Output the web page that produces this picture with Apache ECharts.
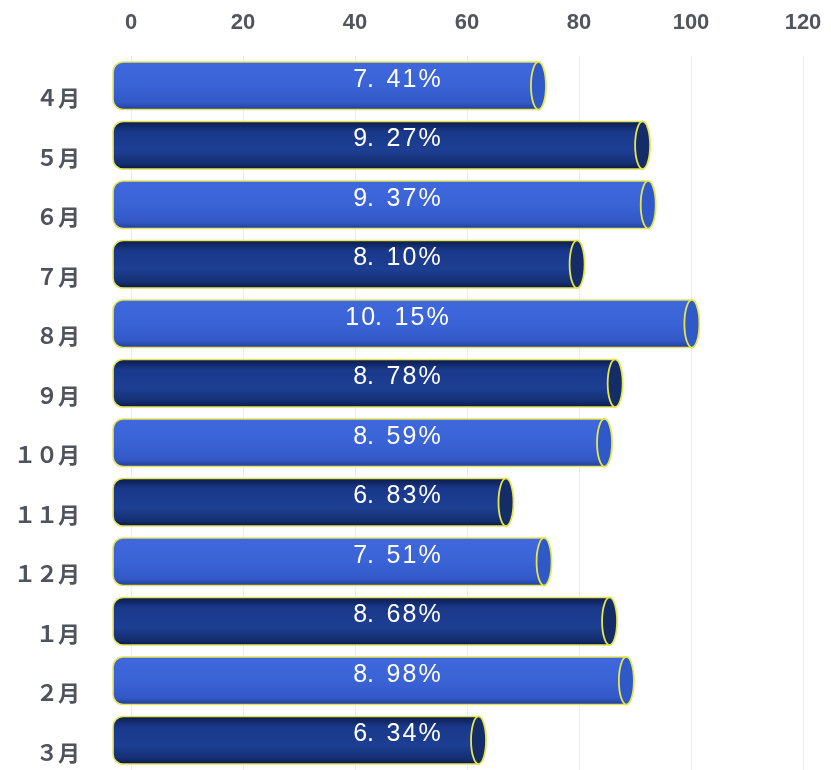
<!DOCTYPE html>
<html>
<head>
<meta charset="utf-8">
<script src="https://cdn.jsdelivr.net/npm/echarts@6/dist/echarts.min.js"></script>
<style>
html,body{margin:0;padding:0;background:#fff;}
#chart{width:831px;height:770px;}
</style>
</head>
<body>
<div id="chart"></div>
<script>
// Categories (top to bottom)
var months = ['４月','５月','６月','７月','８月','９月','１０月','１１月','１２月','１月','２月','３月'];
// Rates shown inside the bars (%)
var rates = [7.41, 9.27, 9.37, 8.10, 10.15, 8.78, 8.59, 6.83, 7.51, 8.68, 8.98, 6.34];
// Bar lengths on the 0-120 axis
var barValues = [74.1, 92.7, 93.7, 81.0, 101.5, 87.8, 85.9, 68.3, 75.1, 86.8, 89.8, 63.4];
// X axis ticks
var xTicks = [0, 20, 40, 60, 80, 100, 120];

var BAR_START = -3.2;   // cylinders start a little left of zero
var LABEL_AT = 47.5;    // labels sit at a fixed spot along the axis

var light = {stops:[[0,'#3f68de'],[0.5,'#3a63d6'],[0.85,'#3358c6'],[1,'#1f3c94']], cap:'#2f58c8'};
var dark  = {stops:[[0,'#0b1a44'],[0.22,'#19388a'],[0.6,'#1d3f93'],[0.88,'#142e70'],[1,'#0a163a']], cap:'#142c68'};

function fmt(r){
  var s = r.toFixed(2).split('.');
  var hs = '\u200A';
  return s[0].split('').join(hs) + '.\u2002' + s[1].split('').join(hs) + hs + '%';
}

var data = barValues.map(function(v, i){ return [v, i]; });

var chart = echarts.init(document.getElementById('chart'), null, {renderer:'canvas'});
chart.setOption({
  backgroundColor:'#ffffff',
  animation:false,
  grid:{left:131, right:28, top:56, height:719},
  xAxis:{
    type:'value', position:'top', min:xTicks[0], max:xTicks[xTicks.length-1], interval:20,
    axisLine:{show:false}, axisTick:{show:false},
    splitLine:{show:true, lineStyle:{color:'#ededed', width:1}},
    axisLabel:{
      margin:22, color:'#51555e', fontSize:22, fontWeight:'bold',
      fontFamily:"'Liberation Sans',Arial,sans-serif"
    }
  },
  yAxis:{
    type:'category', inverse:true, data:months,
    axisLine:{show:false}, axisTick:{show:false}, splitLine:{show:false},
    axisLabel:{
      margin:51, color:'#4f535c', fontSize:22, fontWeight:'bold',
      fontFamily:"'Noto Sans CJK JP',sans-serif",
      verticalAlign:'top', lineHeight:24
    }
  },
  series:[{
    type:'custom',
    clip:false,
    data:data,
    encode:{x:0, y:1},
    renderItem:function(params, api){
      var idx = api.value(1);
      var val = api.value(0);
      var c = api.coord([val, idx]);
      var s = api.coord([BAR_START, idx]);
      var lp = api.coord([LABEL_AT, idx]);
      var h = api.size([0, 1])[1] * 0.8;
      var rx = 7.5;
      var pal = (idx % 2 === 0) ? light : dark;
      var grad = new echarts.graphic.LinearGradient(0,0,0,1, pal.stops.map(function(p){
        return {offset:p[0], color:p[1]};
      }));
      var y0 = c[1] - h/2;
      return {
        type:'group',
        children:[
          {type:'rect', shape:{x:s[0], y:y0, width:(c[0]-rx)-s[0], height:h, r:[10,0,0,10]},
           style:{fill:grad, stroke:'#e4e45a', lineWidth:1.5}},
          {type:'ellipse', shape:{cx:c[0]-rx, cy:c[1], rx:rx, ry:h/2},
           style:{fill:pal.cap, stroke:'#e6e64a', lineWidth:1.8}},
          {type:'text', x:lp[0], y:c[1]-6,
           style:{text:fmt(rates[idx]), fill:'#ffffff', fontSize:25,
                  fontFamily:"'Liberation Sans',Arial,sans-serif",
                  align:'center', verticalAlign:'middle'}}
        ]
      };
    }
  }]
});
</script>
</body>
</html>
